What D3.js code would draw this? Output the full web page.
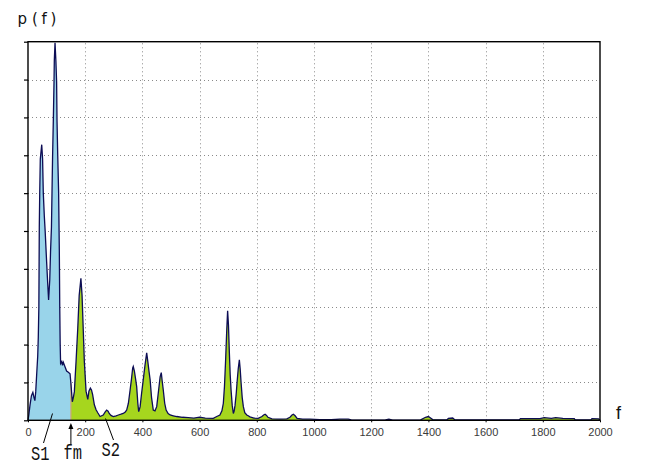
<!DOCTYPE html>
<html><head><meta charset="utf-8">
<script src="https://cdn.jsdelivr.net/npm/d3@7"></script>
<style>body{margin:0;background:#fff}svg{display:block}</style>
</head><body>
<svg id="c" width="645" height="474"></svg>
<script>
const freq = [0,3,7,12,17,21,24,27,31,34,36,38,39.5,41,43,48,51,53.5,57,60,65,69,72,76,79,82,84,86,88.5,91,92,94.5,97.5,100,101.5,104,107,109.5,111,112.5,114,118,120.5,123.5,129,135,141,147,150,
155,159,162,168,174,179,185,189,193,197,203,209,213,218,222,226,232,238,244,252,263,270,275,280,284,290,298,308,316,325,333,340,345,351,357,362,366,368,372,376,380,384,387,390,392,397,403,409,415,419,423,427,432,438,444,450,456,462,466,469,473,478,483,490,497,508,520,540,560,580,600,620,648,660,671,678,683,687,691,695,698,701,704,707,710,714,718,721,724,728,731,735,739,742,745,749,753,758,765,770,776,790,805,818,824,829,834,839,853,880,905,916,923,928,934,941,960,986,1020,1060,1090,1120,1130,1200,1250,1262,1275,1373,1390,1400,1415,1464,1470,1485,1493,1717,1722,1790,1805,1830,1845,1870,1910,1913,1968,1972,1995,2000];
const power = [0,0.15,0.4,0.65,0.74,0.6,0.52,0.75,1.3,1.7,2.2,3.0,5.1,6.0,6.9,7.28,6.9,6.0,5.4,5.0,4.2,3.6,3.18,3.7,4.5,5.1,6.05,6.98,7.9,8.95,9.5,9.97,9.5,8.95,7.9,6.98,6.05,4.5,3.0,2.0,1.5,1.55,1.45,1.53,1.42,1.3,1.27,1.23,0.98,
0.49,0.62,0.75,1.55,2.43,3.3,3.75,3.3,2.43,1.55,0.77,0.55,0.77,0.85,0.8,0.68,0.41,0.28,0.2,0.1,0.14,0.22,0.27,0.24,0.18,0.13,0.1,0.12,0.14,0.16,0.18,0.22,0.27,0.45,0.8,1.1,1.38,1.42,1.3,1.1,0.89,0.45,0.23,0.3,0.36,0.7,1.07,1.45,1.78,1.55,1.3,1.07,0.6,0.27,0.25,0.36,0.75,1.15,1.26,1.05,0.8,0.45,0.27,0.18,0.14,0.12,0.1,0.08,0.07,0.06,0.08,0.06,0.05,0.1,0.14,0.25,0.45,0.9,1.6,2.4,2.89,2.5,1.8,1.2,0.8,0.4,0.18,0.25,0.4,0.7,1.0,1.35,1.6,1.35,1.0,0.6,0.36,0.2,0.14,0.12,0.09,0.06,0.05,0.1,0.14,0.16,0.13,0.08,0.04,0.03,0.04,0.08,0.14,0.16,0.12,0.05,0.03,0.03,0.02,0.015,0.03,0.03,0.01,0.005,0.01,0.03,0.005,0.01,0.08,0.1,0.02,0.01,0.05,0.06,0.01,0.01,0.045,0.045,0.07,0.05,0.07,0.05,0.045,0.01,0.01,0.045,0.04,0];
const xTicks = [0,200,400,600,800,1000,1200,1400,1600,1800,2000];
const yTicks = [0,1,2,3,4,5,6,7,8,9,10];
const fm = 150;
const labels = ["S1","fm","S2"];

const svg = d3.select("#c");
const x = d3.scaleLinear().domain([0,2000]).range([28,600]);
const y = d3.scaleLinear().domain([0,10]).range([420.3,41.7]);
const data = freq.map((f,i)=>({f, v:power[i]}));

// grid
const g = svg.append("g").attr("stroke","#8a8a8a").attr("stroke-dasharray","1,3").attr("stroke-width",1);
g.selectAll(".h").data(yTicks.slice(1,-1)).join("line")
  .attr("x1",x(0)).attr("x2",x(2000)).attr("y1",d=>Math.round(y(d))+0.5).attr("y2",d=>Math.round(y(d))+0.5);
g.selectAll(".v").data(xTicks.slice(1,-1)).join("line")
  .attr("y1",y(0)).attr("y2",y(10)).attr("x1",d=>Math.round(x(d))+0.5).attr("x2",d=>Math.round(x(d))+0.5);

// areas
const area = d3.area().x(d=>x(d.f)).y0(y(0)).y1(d=>y(d.v));
svg.append("path").datum(data.filter(d=>d.f<=fm)).attr("d",area).attr("fill","#99d4ea");
svg.append("path").datum(data.filter(d=>d.f>=fm)).attr("d",area).attr("fill","#a6d61e");
// fm divider
const vfm = power[freq.indexOf(fm)];
svg.append("line").attr("x1",x(fm)).attr("x2",x(fm)).attr("y1",y(0)).attr("y2",y(vfm))
  .attr("stroke","#c9a47c").attr("stroke-width",1.2);
// curve
const line = d3.line().x(d=>x(d.f)).y(d=>y(d.v));
svg.append("path").datum(data).attr("d",line).attr("fill","none").attr("stroke","#0d0d55").attr("stroke-width",1.3);

// axes
const xa = svg.append("g").attr("transform",`translate(0,${y(0)})`)
  .call(d3.axisBottom(x).tickValues(xTicks).tickSize(2).tickPadding(6).tickFormat(d=>d));
xa.select(".domain").remove();
xa.selectAll("line").attr("stroke","#000");
xa.selectAll("text").attr("font-family","Liberation Sans, Arial, sans-serif").attr("font-size","11px").attr("fill","#3a3a3a");
const ya = svg.append("g").attr("transform",`translate(${x(0)},0)`)
  .call(d3.axisLeft(y).tickValues(yTicks).tickSize(4).tickFormat(""));
ya.select(".domain").remove();
ya.selectAll("line").attr("stroke","#000").attr("stroke-width",1.2);
svg.append("rect").attr("x",x(0)).attr("y",y(10)).attr("width",x(2000)-x(0)).attr("height",y(0)-y(10))
  .attr("fill","none").attr("stroke","#000").attr("stroke-width",1.4);

// titles
const t = svg.append("text").attr("y",24)
  .attr("font-family","DejaVu Sans, sans-serif").attr("font-size","15px").attr("fill","#111");
t.append("tspan").attr("x",17.5).text("p");
t.append("tspan").attr("x",32).text("(");
t.append("tspan").attr("x",41.5).text("f");
t.append("tspan").attr("x",50.5).text(")");
svg.append("text").attr("x",616).attr("y",419).text("f")
  .attr("font-family","Liberation Sans, Arial, sans-serif").attr("font-size","18px").attr("fill","#111");

// annotations
const ann = svg.append("g").attr("stroke","#000").attr("stroke-width",1);
ann.append("line").attr("x1",43.5).attr("y1",443).attr("x2",52.5).attr("y2",413.5);
ann.append("line").attr("x1",x(fm)).attr("y1",445).attr("x2",x(fm)).attr("y2",426);
svg.append("path").attr("d",`M${x(fm)},423 l-2.5,6 l5,0 z`).attr("fill","#000");
ann.append("line").attr("x1",113.5).attr("y1",440).attr("x2",105.5).attr("y2",418.5);

const lf = "Liberation Mono, DejaVu Sans Mono, monospace";
const lx = [31,63.5,101.5], ly = [460,459,456];
svg.selectAll(".lab").data(labels).join("text")
  .attr("x",(d,i)=>lx[i]).attr("y",(d,i)=>ly[i]).text(d=>d)
  .attr("font-family",lf).attr("font-size","20px").attr("fill","#111")
  .attr("textLength",18.5).attr("lengthAdjust","spacingAndGlyphs");
</script>
</body></html>
